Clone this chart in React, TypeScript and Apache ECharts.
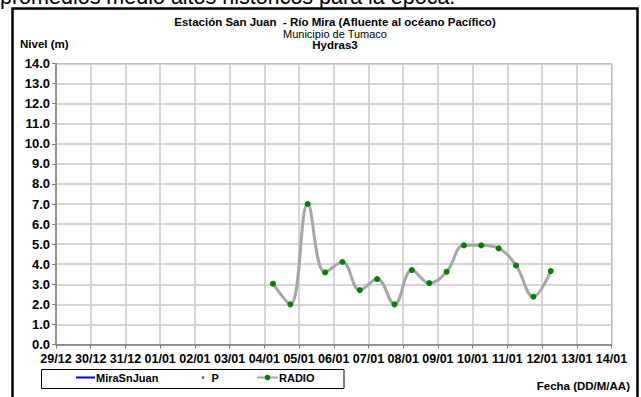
import React, { useEffect, useRef } from "react";
import * as echarts from "echarts";

const xTickLabels = ["29/12", "30/12", "31/12", "01/01", "02/01", "03/01", "04/01", "05/01", "06/01", "07/01", "08/01", "09/01", "10/01", "11/01", "12/01", "13/01", "14/01"];
// position in days after 29/12 00:00
const radioDays = [6.25, 6.75, 7.25, 7.75, 8.25, 8.75, 9.25, 9.75, 10.25, 10.75, 11.25, 11.75, 12.25, 12.75, 13.25, 13.75, 14.25];
const radioLevels = [3.03, 2.0, 7.0, 3.59, 4.11, 2.71, 3.26, 2.0, 3.71, 3.06, 3.62, 4.94, 4.94, 4.79, 3.94, 2.38, 3.66];
const miraSnJuan: number[][] = [];
const pPoints: number[][] = [];

const FONT = "'Liberation Sans', Arial, sans-serif";

export default function App() {
  const ref = useRef<HTMLDivElement>(null);
  useEffect(() => {
    document.body.style.margin = "0";
    if (!ref.current) return;
    const chart = echarts.init(ref.current, undefined, { renderer: "svg" });
    const radioData = radioDays.map((d, i) => [d, radioLevels[i]]);
    const legendText = { color: "#000", fontWeight: "bold", fontSize: 11, fontFamily: FONT };
    chart.setOption({
      animation: false,
      backgroundColor: "#fff",
      textStyle: { fontFamily: FONT },
      grid: { left: 56, right: 29.5, top: 63.5, bottom: 52.5, show: true, borderColor: "#a0a0a0", borderWidth: 1, backgroundColor: "#fff" },
      xAxis: {
        type: "value",
        min: 0,
        max: 16,
        interval: 1,
        axisLine: { show: true, lineStyle: { color: "#808080", width: 1.5 } },
        axisTick: { show: true, inside: false, length: 4, lineStyle: { color: "#808080" } },
        splitLine: { show: true, lineStyle: { color: "#c8c8c8", width: 1.5 } },
        axisLabel: {
          margin: 8,
          color: "#000",
          fontWeight: "bold",
          fontSize: 12.5,
          fontFamily: FONT,
          formatter: (v: number) => xTickLabels[Math.round(v)] ?? "",
        },
      },
      yAxis: {
        type: "value",
        min: 0,
        max: 14,
        interval: 1,
        axisLine: { show: true, lineStyle: { color: "#808080", width: 1.5 } },
        axisTick: { show: true, inside: false, length: 4, lineStyle: { color: "#808080" } },
        splitLine: { show: true, lineStyle: { color: "#c8c8c8", width: 1.5 } },
        axisLabel: {
          margin: 6,
          color: "#000",
          fontWeight: "bold",
          fontSize: 13,
          fontFamily: FONT,
          formatter: (v: number) => v.toFixed(1),
        },
      },
      legend: [
        {
          data: [{ name: "MiraSnJuan", icon: "rect" }],
          left: 76,
          top: 372,
          itemWidth: 19,
          itemHeight: 2,
          textStyle: { ...legendText, padding: [0, 0, 0, -4] },
          padding: 0,
          selectedMode: false,
        },
        {
          data: [{ name: "P", icon: "circle" }],
          left: 201.5,
          top: 372,
          itemWidth: 3,
          itemHeight: 3,
          textStyle: { ...legendText, padding: [0, 0, 0, 2] },
          padding: 0,
          selectedMode: false,
        },
        {
          data: ["RADIO"],
          left: 256,
          top: 372,
          itemWidth: 21,
          itemHeight: 7,
          textStyle: { ...legendText, padding: [0, 0, 0, -4] },
          padding: 0,
          selectedMode: false,
        },
      ],
      graphic: [
        {
          type: "text",
          left: 0,
          top: -14,
          style: { text: "promedios medio altos históricos para la época.", fontSize: 21.5, fontFamily: FONT, fill: "#000" },
        },
        {
          type: "rect",
          shape: { x: 12.5, y: 8.5, width: 625, height: 400 },
          style: { fill: "#fff", stroke: "#000", lineWidth: 2.5 },
          z: -10,
        },
        {
          type: "text",
          x: 335,
          y: 22,
          style: { text: "Estación San Juan  - Río Mira (Afluente al océano Pacífico)", fontSize: 11.5, fontWeight: "bold", fontFamily: FONT, fill: "#000", align: "center", verticalAlign: "middle" },
        },
        {
          type: "text",
          x: 335,
          y: 34,
          style: { text: "Municipio de Tumaco", fontSize: 11, fontFamily: FONT, fill: "#000", align: "center", verticalAlign: "middle" },
        },
        {
          type: "text",
          x: 335,
          y: 44.5,
          style: { text: "Hydras3", fontSize: 11.5, fontWeight: "bold", fontFamily: FONT, fill: "#000", align: "center", verticalAlign: "middle" },
        },
        {
          type: "text",
          x: 20,
          y: 44,
          style: { text: "Nivel (m)", fontSize: 11.5, fontWeight: "bold", fontFamily: FONT, fill: "#000", align: "left", verticalAlign: "middle" },
        },
        {
          type: "text",
          x: 630,
          y: 386,
          style: { text: "Fecha (DD/M/AA)", fontSize: 11.5, fontWeight: "bold", fontFamily: FONT, fill: "#000", align: "right", verticalAlign: "middle" },
        },
        {
          type: "rect",
          shape: { x: 41.5, y: 369.5, width: 302.5, height: 19 },
          style: { fill: "none", stroke: "#000", lineWidth: 1 },
        },
      ],
      series: [
        {
          name: "MiraSnJuan",
          type: "line",
          data: miraSnJuan,
          symbol: "none",
          itemStyle: { color: "#0000ff" },
          lineStyle: { color: "#0000ff", width: 2 },
        },
        {
          name: "P",
          type: "scatter",
          data: pPoints,
          symbol: "circle",
          symbolSize: 3,
          itemStyle: { color: "#008000" },
        },
        {
          name: "RADIO",
          type: "line",
          data: radioData,
          smooth: 0.4,
          symbol: "circle",
          symbolSize: 6,
          showAllSymbol: true,
          itemStyle: { color: "#008000", borderWidth: 0 },
          lineStyle: { color: "#a6a6a6", width: 3 },
          z: 5,
        },
      ],
    });
    return () => chart.dispose();
  }, []);
  return <div ref={ref} style={{ width: 641, height: 397 }} />;
}
